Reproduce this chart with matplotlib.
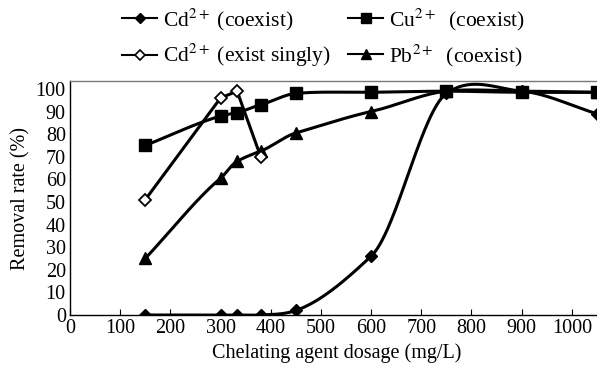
import numpy as np
import matplotlib.pyplot as plt
from matplotlib.lines import Line2D

plt.rcParams['font.family'] = ['Liberation Serif', 'DejaVu Serif']
plt.rcParams['mathtext.fontset'] = 'stix'

# data
dose = [150, 300, 333, 380, 450, 600, 750, 900, 1050]
cd_coexist = [0, 0, 0, 0, 2, 26, 98, 99, 89]
cu_coexist = [75, 88, 89.5, 93, 98, 98.5, 99, 98.5, 98.5]
pb_coexist = [25, 60.5, 68, 72.5, 80.5, 90, 99, 99, 98.5]
dose_single = [150, 300, 333, 380]
cd_single = [51, 96, 99, 70]

xticks = list(range(0, 1001, 100))
yticks = list(range(0, 101, 10))


def smooth(x, y, tension=0.6, n=60):
    # cubic hermite with scaled finite-difference tangents
    x = np.asarray(x, float)
    y = np.asarray(y, float)
    m = np.zeros_like(y)
    m[1:-1] = (y[2:] - y[:-2]) / (x[2:] - x[:-2])
    m[0] = (y[1] - y[0]) / (x[1] - x[0])
    m[-1] = (y[-1] - y[-2]) / (x[-1] - x[-2])
    m[1:-1] *= tension
    xs, ys = [], []
    for i in range(len(x) - 1):
        h = x[i + 1] - x[i]
        t = np.linspace(0, 1, n)
        h00 = 2 * t ** 3 - 3 * t ** 2 + 1
        h10 = t ** 3 - 2 * t ** 2 + t
        h01 = -2 * t ** 3 + 3 * t ** 2
        h11 = t ** 3 - t ** 2
        xs.append(x[i] + t * h)
        ys.append(h00 * y[i] + h10 * h * m[i] + h01 * y[i + 1] + h11 * h * m[i + 1])
    return np.concatenate(xs), np.concatenate(ys)


fig = plt.figure(figsize=(5.97, 3.72), dpi=100)
ax = fig.add_axes([70 / 597, 1 - 315 / 372, 1 - 70 / 597 + 0.01, (315 - 81) / 372])

lw = 2.2
for ys, mk, ms, tens in [(cd_coexist, 'D', 6, 0.65), (cu_coexist, 's', 8.5, 0.8),
                         (pb_coexist, '^', 8.5, 0.8)]:
    sx, sy = smooth(dose, ys, tens)
    ax.plot(sx, sy, color='black', lw=lw, zorder=2)
    ax.plot(dose, ys, ls='none', marker=mk, ms=ms, color='black', zorder=3)

ax.plot(dose_single, cd_single, color='black', lw=lw, marker='D', ms=6,
        mfc='white', mec='black', mew=1.3, zorder=3)

ax.set_xlim(0, 1062)
ax.set_ylim(0, 103.5)
ax.set_xticks(xticks)
ax.set_yticks(yticks)
ax.tick_params(axis='x', direction='in', length=4, labelsize=14.5, pad=3)
ax.tick_params(axis='y', length=0, labelsize=14.5, pad=3)
for s in ax.spines.values():
    s.set_linewidth(1.0)
ax.spines['top'].set_color('#777777')
ax.set_xlabel('Chelating agent dosage (mg/L)', fontsize=14.5)
ax.set_ylabel('Removal rate (%)', fontsize=14.5)

handles = [
    Line2D([], [], color='black', lw=1.5, marker='D', ms=5),
    Line2D([], [], color='black', lw=1.5, marker='D', ms=5, mfc='white', mew=1.2),
    Line2D([], [], color='black', lw=1.5, marker='s', ms=6.5),
    Line2D([], [], color='black', lw=1.5, marker='^', ms=6.5),
]
labels = [r'Cd$^{2+}$ (coexist)', r'Cd$^{2+}$ (exist singly)',
          r'Cu$^{2+}$  (coexist)', r'Pb$^{2+}$  (coexist)']
fig.legend(handles, labels, ncol=2, frameon=False, fontsize=15.5,
           loc='upper left', bbox_to_anchor=(103 / 597, 1.035),
           handlelength=1.6, handletextpad=0.3, columnspacing=0.8,
           labelspacing=0.45)

fig.savefig('out.png', dpi=100)
